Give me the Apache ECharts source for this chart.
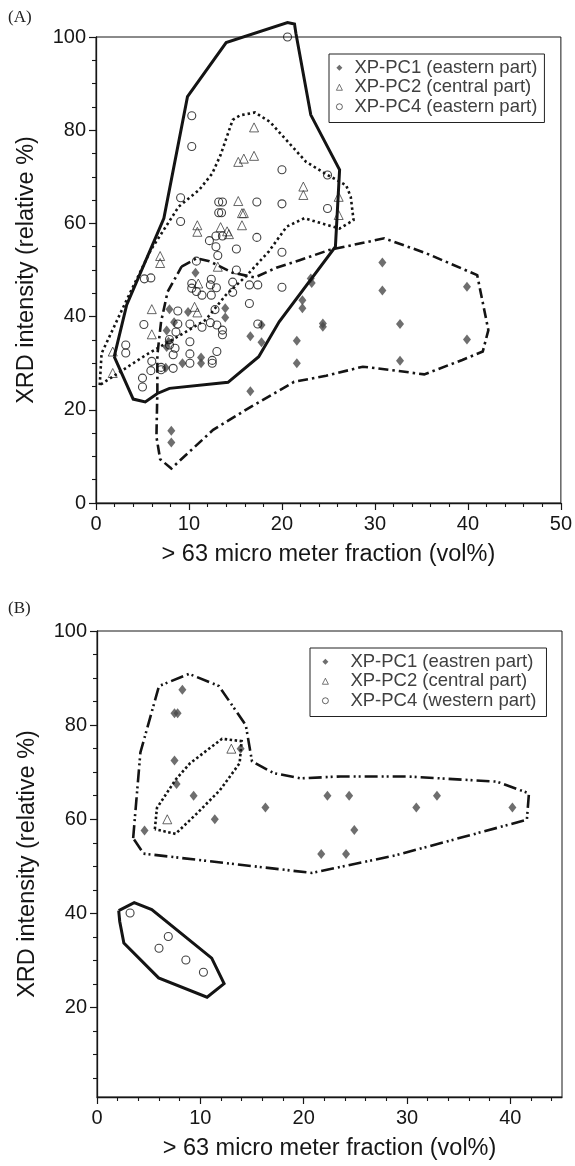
<!DOCTYPE html>
<html>
<head>
<meta charset="utf-8">
<script src="https://cdn.jsdelivr.net/npm/echarts@6/dist/echarts.min.js"></script>
<style>
  html, body { margin: 0; padding: 0; background: #fff; }
  #chart { width: 575px; height: 1166px; }
</style>
</head>
<body>
<div id="chart"></div>
<script>
// ---------- (A) XRD intensity vs. >63 µm fraction ----------
const pc1A = [
  [10.7, 49.4], [7.9, 41.6], [9.9, 41.0], [8.4, 38.8], [7.6, 37.0], [7.8, 34.6],
  [7.6, 33.5], [13.9, 41.8], [13.9, 39.8], [11.3, 31.2], [11.3, 30.0], [9.3, 30.0],
  [7.5, 29.0], [8.1, 15.5], [8.1, 13.0], [16.6, 24.0], [16.6, 35.8], [17.8, 34.5],
  [17.8, 38.2], [21.6, 34.8], [21.6, 30.0], [23.1, 48.2], [23.2, 47.2], [22.2, 43.5],
  [22.2, 41.8], [24.4, 38.5], [24.4, 37.8], [30.8, 51.6], [30.8, 45.6], [39.9, 46.4],
  [39.9, 35.1], [32.7, 38.4], [32.7, 30.5]
];
const pc2A = [
  [6.9, 53.0], [6.9, 51.5], [6.0, 41.6], [6.0, 36.2], [1.8, 32.5], [1.8, 27.9],
  [10.6, 42.1], [10.9, 40.9], [11.0, 47.1], [13.1, 50.7], [17.0, 80.6], [17.0, 74.5],
  [15.9, 73.9], [15.3, 73.2], [15.3, 64.8], [15.7, 62.2], [15.9, 62.2], [15.7, 59.6],
  [10.9, 59.6], [10.9, 58.2], [13.4, 59.2], [14.1, 58.3], [14.3, 57.7], [22.3, 67.9],
  [22.3, 66.1], [26.1, 65.7], [26.1, 61.8]
];
const pc4A = [
  [20.6, 100], [10.3, 83.1], [10.3, 76.5], [9.1, 65.5], [9.1, 60.4], [20.0, 71.5],
  [20.0, 64.2], [17.3, 64.6], [17.3, 57.0], [20.0, 53.8], [20.0, 46.3], [24.9, 70.4],
  [24.9, 63.2], [5.2, 48.1], [5.9, 48.3], [13.2, 64.6], [13.6, 64.6], [13.2, 62.3],
  [13.5, 62.3], [12.2, 56.3], [12.9, 57.3], [13.6, 57.3], [12.9, 55.0], [13.1, 53.1],
  [10.8, 51.9], [15.1, 54.5], [15.1, 50.0], [16.5, 46.8], [17.4, 46.8], [10.3, 47.1],
  [10.3, 46.1], [10.8, 45.4], [11.4, 44.6], [12.4, 48.0], [12.3, 46.8], [12.4, 44.6],
  [12.95, 46.2], [14.7, 45.2], [14.7, 47.4], [16.5, 42.8], [17.4, 38.4], [8.8, 41.2],
  [8.8, 38.4], [10.1, 38.4], [11.4, 37.7], [12.3, 38.7], [13.0, 38.2], [13.6, 37.1],
  [13.6, 36.1], [8.6, 36.7], [7.9, 35.1], [7.9, 33.9], [8.5, 33.2], [8.3, 31.8],
  [10.1, 34.6], [10.1, 32.0], [10.1, 30.0], [13.0, 32.5], [12.5, 30.6], [12.5, 30.0],
  [5.15, 38.3], [3.2, 33.9], [3.2, 32.2], [5.0, 26.8], [5.0, 24.9], [6.0, 30.4],
  [5.9, 28.4], [7.0, 29.1], [7.0, 28.6], [8.3, 28.9], [12.8, 41.5]
];
// outlines drawn around each group in (A)
const hullPc4A = [
  [1.96, 31.4], [3.3, 42.5], [7.3, 61.1], [9.84, 87.2], [14.0, 98.8], [20.6, 103.1],
  [21.35, 102.8], [21.5, 100.8], [23.1, 83.3], [26.2, 71.5], [25.75, 55.0], [19.7, 38.9],
  [17.5, 31.4], [14.2, 25.9], [7.9, 24.6], [6.6, 23.5], [5.3, 21.7], [4.0, 22.3], [1.96, 31.4]
];
const hullPc2A = [
  [0.4, 25.3], [0.6, 32.1], [3.3, 43.6], [5.9, 54.3], [8.9, 63.6], [11.1, 67.2],
  [12.5, 70.7], [13.4, 74.7], [14.7, 82.2], [15.5, 83.2], [17.1, 83.8], [18.7, 81.8],
  [22.6, 73.2], [24.9, 70.4], [26.9, 68.2], [27.4, 65.7], [27.7, 60.7], [26.2, 58.9],
  [22.4, 61.1], [20.5, 59.3], [18.6, 54.0], [16.1, 48.6], [13.95, 44.6], [12.9, 42.0],
  [11.8, 39.3], [8.8, 35.7], [5.4, 31.8], [0.4, 25.3]
];
const hullPc1A = [
  [9.2, 50.7], [10.8, 52.5], [12.2, 51.9], [14.7, 49.4], [17.1, 48.4], [19.4, 50.5],
  [21.9, 52.1], [25.1, 54.3], [31.0, 56.8], [35.5, 53.6], [41.0, 48.9], [42.2, 37.1],
  [41.6, 32.5], [39.4, 30.7], [35.3, 27.6], [32.3, 28.4], [28.7, 29.25], [24.75, 27.3],
  [21.3, 26.0], [16.7, 20.7], [12.6, 15.7], [8.1, 7.4], [6.9, 9.4], [6.5, 14.2],
  [6.6, 24.2], [6.6, 31.8], [7.0, 38.9], [7.7, 45.3], [9.2, 50.7]
];

// ---------- (B) ----------
const pc1B = [
  [8.26, 87.5], [7.5, 82.5], [7.8, 82.5], [7.5, 72.5], [7.7, 67.5], [9.35, 65.0],
  [11.4, 60.0], [4.6, 57.6], [16.3, 62.5], [13.9, 75.0], [22.3, 65.0], [24.4, 65.0],
  [32.9, 65.0], [30.9, 62.5], [40.2, 62.5], [24.9, 57.7], [21.7, 52.6], [24.1, 52.6]
];
const pc2B = [[6.8, 60.0], [13.0, 75.0]];
const pc4B = [[3.2, 40.1], [6.0, 32.6], [6.9, 35.1], [8.6, 30.1], [10.3, 27.5]];
const hullPc4B = [
  [2.1, 40.6], [3.6, 42.3], [5.3, 40.8], [11.1, 30.5], [12.3, 25.1], [10.65, 22.2],
  [5.96, 26.3], [2.6, 33.7], [2.2, 38.3], [2.1, 40.6]
];
const hullPc1B = [
  [3.5, 56.0], [4.2, 74.2], [6.0, 88.3], [8.9, 90.9], [11.8, 88.3], [14.4, 80.0],
  [15.0, 72.3], [17.1, 69.8], [19.7, 68.7], [23.55, 69.1], [30.0, 69.1], [38.7, 68.0],
  [41.8, 65.5], [41.6, 59.9], [29.0, 52.4], [20.8, 48.6], [4.5, 52.7], [3.5, 56.0]
];
const hullPc2B = [
  [5.6, 57.9], [5.8, 62.4], [7.6, 68.4], [9.0, 71.9], [12.1, 77.1], [14.0, 76.6],
  [13.8, 71.9], [11.9, 66.2], [9.7, 61.3], [7.6, 56.9], [5.6, 57.9]
];

// ---------- axis ticks ----------
const xMajorA = [0, 10, 20, 30, 40, 50];
const xMinorA = [2, 4, 6, 8, 12, 14, 16, 18, 22, 24, 26, 28, 32, 34, 36, 38, 42, 44, 46, 48];
const yMajorA = [0, 20, 40, 60, 80, 100];
const yMinorA = [5, 10, 15, 25, 30, 35, 45, 50, 55, 65, 70, 75, 85, 90, 95];
const xMajorB = [0, 10, 20, 30, 40];
const xMinorB = [2, 4, 6, 8, 12, 14, 16, 18, 22, 24, 26, 28, 32, 34, 36, 38, 42, 44];
const yMajorB = [20, 40, 60, 80, 100];
const yMinorB = [5, 10, 15, 25, 30, 35, 45, 50, 55, 65, 70, 75, 85, 90, 95];

const namesA = ['XP-PC1 (eastern part)', 'XP-PC2 (central part)', 'XP-PC4 (eastern part)'];
const namesB = ['XP-PC1 (eastren part)', 'XP-PC2 (central part) ', 'XP-PC4 (western part)'];
const xTitle = '> 63 micro meter fraction (vol%)';
const yTitle = 'XRD intensity (relative %)';

const FONT = '"Liberation Sans", Arial, Helvetica, sans-serif';
const INK = '#161616';

function mainAxis(dim, grid, min, max, majors, title) {
  const isX = dim === 'x';
  return {
    type: 'value', gridIndex: grid, min: min, max: max,
    position: isX ? 'bottom' : 'left',
    name: title, nameLocation: 'middle', nameGap: isX ? 40 : 57,
    nameTextStyle: { fontSize: 23.5, color: INK, fontFamily: FONT },
    axisLine: { show: true, onZero: false, lineStyle: { color: INK, width: 1.3 } },
    axisTick: { show: true, customValues: majors, length: 7, lineStyle: { color: INK, width: 1.2 } },
    axisLabel: { show: true, customValues: majors, fontSize: 20, color: INK, fontFamily: FONT, margin: isX ? 11 : 10 },
    splitLine: { show: false }
  };
}
function minorAxis(dim, grid, min, max, minors) {
  return {
    type: 'value', gridIndex: grid, min: min, max: max,
    position: dim === 'x' ? 'bottom' : 'left', offset: 0,
    axisLine: { show: false, onZero: false },
    axisTick: { show: true, customValues: minors, length: 4, lineStyle: { color: INK, width: 1.1 } },
    axisLabel: { show: false },
    splitLine: { show: false }
  };
}

function pointSeries(name, data, kind, xi, yi) {
  const s = { type: 'scatter', name: name, data: data, xAxisIndex: xi, yAxisIndex: yi, z: 3 };
  if (kind === 'diamond') {
    s.symbol = 'diamond'; s.symbolSize = [8, 10];
    s.itemStyle = { color: '#4a4a4a' };
  } else if (kind === 'triangle') {
    s.symbol = 'triangle'; s.symbolSize = 9;
    s.itemStyle = { color: 'rgba(255,255,255,0)', borderColor: '#2a2a2a', borderWidth: 0.9 };
  } else {
    s.symbol = 'circle'; s.symbolSize = 8;
    s.itemStyle = { color: 'rgba(255,255,255,0)', borderColor: '#111', borderWidth: 1.1 };
  }
  return s;
}
function hullSeries(data, dash, width, xi, yi) {
  return {
    type: 'line', data: data, xAxisIndex: xi, yAxisIndex: yi,
    symbol: 'none', smooth: false, clip: false, z: 4, silent: true,
    lineStyle: { color: '#141414', width: width, type: dash, cap: 'butt', join: 'miter' }
  };
}

// legend icons are kept square so the marker shapes are not stretched
function legendFor(names, left, top, textPad, padding) {
  return {
    data: names, orient: 'vertical', left: left, top: top,
    itemWidth: 6, itemHeight: 6, itemGap: 0, padding: padding,
    borderColor: '#222', borderWidth: 1, backgroundColor: '#fff',
    selectedMode: false,
    itemStyle: { borderWidth: 0.8 },
    textStyle: { fontSize: 18.5, lineHeight: 19.5, color: '#404040', fontFamily: FONT, padding: [0, 0, 0, textPad] }
  };
}

const chart = echarts.init(document.getElementById('chart'), null, { renderer: 'canvas' });
chart.setOption({
  animation: false,
  backgroundColor: '#fff',
  textStyle: { fontFamily: FONT },
  grid: [
    { left: 96, right: 13, top: 37, bottom: 663, show: true, borderColor: INK, borderWidth: 1, backgroundColor: 'transparent' },
    { left: 97, right: 13, top: 631, bottom: 69, show: true, borderColor: INK, borderWidth: 1, backgroundColor: 'transparent' }
  ],
  xAxis: [
    mainAxis('x', 0, 0, 50, xMajorA, xTitle),
    minorAxis('x', 0, 0, 50, xMinorA),
    mainAxis('x', 1, 0, 45, xMajorB, xTitle),
    minorAxis('x', 1, 0, 45, xMinorB)
  ],
  yAxis: [
    mainAxis('y', 0, 0, 100, yMajorA, yTitle),
    minorAxis('y', 0, 0, 100, yMinorA),
    mainAxis('y', 1, 1, 100, yMajorB, yTitle),
    minorAxis('y', 1, 1, 100, yMinorB)
  ],
  legend: [
    legendFor(namesA, 329, 54, 7, [4, 7, 6, 7]),
    legendFor(namesB, 310, 648, 17, [4, 10, 6, 12])
  ],
  graphic: [
    { type: 'text', left: 8, top: 9, style: { text: '(A)', fontSize: 17, fontFamily: '"Liberation Serif", "Times New Roman", serif', fill: '#222' } },
    { type: 'text', left: 8, top: 600, style: { text: '(B)', fontSize: 17, fontFamily: '"Liberation Serif", "Times New Roman", serif', fill: '#222' } }
  ],
  series: [
    hullSeries(hullPc4A, 'solid', 3, 0, 0),
    hullSeries(hullPc2A, [2.5, 3], 2.6, 0, 0),
    hullSeries(hullPc1A, [10, 4, 2.5, 4], 2.6, 0, 0),
    pointSeries(namesA[0], pc1A, 'diamond', 0, 0),
    pointSeries(namesA[1], pc2A, 'triangle', 0, 0),
    pointSeries(namesA[2], pc4A, 'circle', 0, 0),

    hullSeries(hullPc4B, 'solid', 3, 2, 2),
    hullSeries(hullPc1B, [13, 4, 2, 3, 2, 4], 2.6, 2, 2),
    hullSeries(hullPc2B, [2.5, 2.5], 2.6, 2, 2),
    pointSeries(namesB[0], pc1B, 'diamond', 2, 2),
    pointSeries(namesB[1], pc2B, 'triangle', 2, 2),
    pointSeries(namesB[2], pc4B, 'circle', 2, 2)
  ]
});
</script>
</body>
</html>
